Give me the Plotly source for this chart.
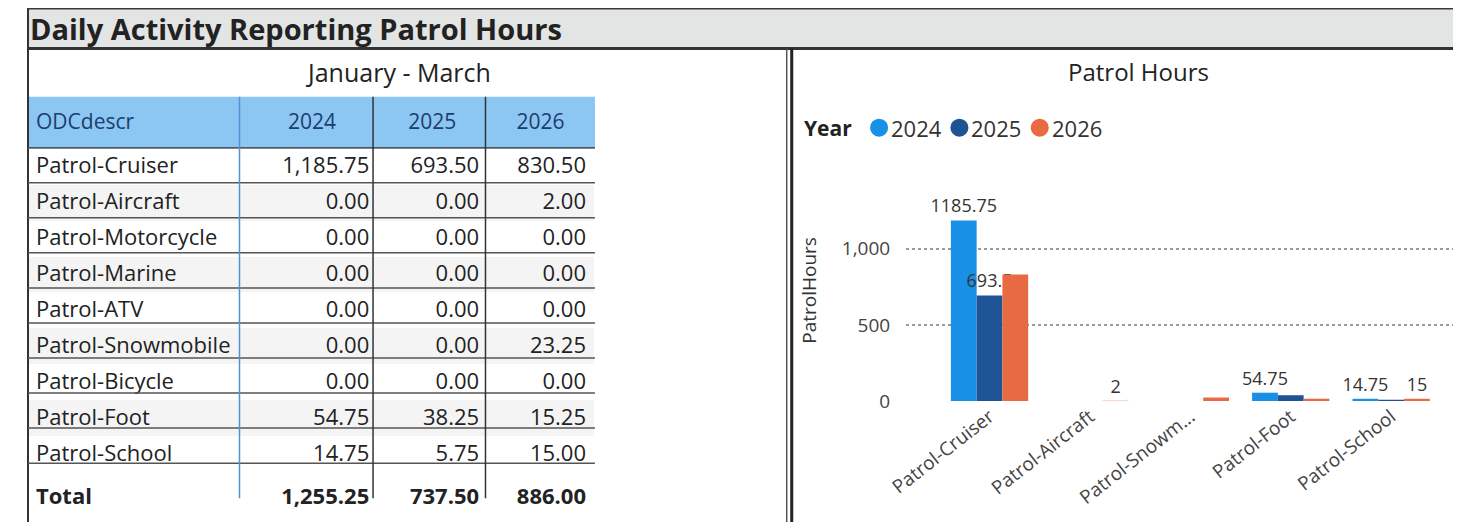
import plotly.graph_objects as go

# ---------------- data ----------------
categories = ["Patrol-Cruiser", "Patrol-Aircraft", "Patrol-Motorcycle", "Patrol-Marine",
              "Patrol-ATV", "Patrol-Snowmobile", "Patrol-Bicycle", "Patrol-Foot", "Patrol-School"]
years = ["2024", "2025", "2026"]
hours_2024 = [1185.75, 0.00, 0.00, 0.00, 0.00, 0.00, 0.00, 54.75, 14.75]
hours_2025 = [693.50, 0.00, 0.00, 0.00, 0.00, 0.00, 0.00, 38.25, 5.75]
hours_2026 = [830.50, 2.00, 0.00, 0.00, 0.00, 23.25, 0.00, 15.25, 15.00]

# which data labels are visible in the chart (others hidden by overlap in the original)
label_shown = {
    "2024": {"Patrol-Cruiser", "Patrol-Foot", "Patrol-School"},
    "2025": {"Patrol-Cruiser"},
    "2026": {"Patrol-Aircraft", "Patrol-School"},
}

colors = {"2024": "#1790E6", "2025": "#1E5496", "2026": "#E86A42"}

W, H = 1461, 527
OFF = 8                      # page margin around the figure
SX, BX = 0.983, 20.5         # observed photo scaling (horizontal)
SY, BY = 0.974, 0.7          # observed photo scaling (vertical)
FONT = "Open Sans"


def clamp(v):
    return max(0.0007, min(1.0, v))


def px(x):
    return clamp(((x - BX) / SX - OFF) / W)


def py(y):
    return clamp(1 - ((y - BY) / SY - OFF) / H)


series = {"2024": hours_2024, "2025": hours_2025, "2026": hours_2026}
totals = {y: sum(v) for y, v in series.items()}

# ---------------- table ----------------
def fmt(v):
    return f"{v:,.2f}"

col_first = categories + ["<b>Total</b>"]
cols = [col_first]
for y in years:
    cols.append([fmt(v) for v in series[y]] + [f"<b>{fmt(totals[y])}</b>"])

n_rows = len(col_first)
row_fill = [("#ffffff" if i % 2 == 0 else "#f4f4f4") for i in range(n_rows)]
row_fill[-1] = "#ffffff"

HEADER_BLUE = "#8CC6F2"
ROW_H = 35 / SY
HEAD_H = 42 / SY

fig = go.Figure()

fig.add_trace(go.Table(
    domain=dict(x=[px(17), px(594)], y=[py(522), py(106)]),
    columnwidth=[223, 133, 112, 109],
    header=dict(
        values=["ODCdescr"] + years,
        fill_color=HEADER_BLUE,
        line=dict(color=HEADER_BLUE, width=1),
        align=["left", "center", "center", "center"],
        font=dict(family=FONT, size=21, color="#1C3D6E"),
        height=HEAD_H,
    ),
    cells=dict(
        values=cols,
        fill_color=[row_fill] * 4,
        line=dict(color=[row_fill] * 4, width=0),
        align=["left", "right", "right", "right"],
        font=dict(family=FONT, size=22, color="#222222"),
        height=ROW_H,
    ),
))

# ---------------- bar chart ----------------
chart_cats = [c for i, c in enumerate(categories)
              if any(series[y][i] > 0 for y in years)]
idx = [categories.index(c) for c in chart_cats]


def short(name):
    return name if len(name) <= 15 else name[:12] + "..."

for y in years:
    vals = [series[y][i] for i in idx]
    txt = [f"{v:g}" if c in label_shown[y] else "" for c, v in zip(chart_cats, vals)]
    fig.add_trace(go.Bar(
        x=chart_cats, y=vals, name=y, marker=dict(color=colors[y], line=dict(width=0)),
        text=txt, textposition="outside", cliponaxis=False, constraintext="none",
        textfont=dict(family=FONT, size=18, color="#333333"),
        showlegend=False, hoverinfo="x+y",
    ))

fig.update_layout(
    width=W, height=H,
    margin=dict(l=0, r=0, t=0, b=0),
    paper_bgcolor="white", plot_bgcolor="white",
    barmode="group", bargap=0.23, bargroupgap=0,
    font=dict(family=FONT, color="#333333"),
    showlegend=False,
    xaxis=dict(
        domain=[px(904), px(1458)],
        range=[-0.83, 4.71],
        tickmode="array", tickvals=chart_cats, ticktext=[short(c) for c in chart_cats],
        tickangle=-38, tickfont=dict(family=FONT, size=19, color="#444444"),
        showgrid=False, showline=False, zeroline=False, ticks="",
    ),
    yaxis=dict(
        domain=[py(401), py(180)],
        range=[0, 1453],
        tickvals=[0, 500, 1000], ticktext=["0", "500", "1,000"],
        tickfont=dict(family=FONT, size=19, color="#444444"),
        showgrid=True, gridcolor="#9a9a9a", griddash="dot", gridwidth=1.5,
        zeroline=False, showline=False, ticks="", ticklabelstandoff=15,
        title=dict(text="PatrolHours", font=dict(family=FONT, size=19, color="#333333"),
                   standoff=20),
    ),
)

# ---------------- frame / header ----------------
shapes = [
    dict(type="rect", xref="paper", yref="paper", x0=px(8), x1=1, y0=py(49), y1=py(9),
         fillcolor="#E3E4E4", line=dict(color="#3a3a3a", width=2), layer="below"),
    dict(type="line", xref="paper", yref="paper", x0=px(8), x1=1, y0=py(49), y1=py(49),
         line=dict(color="#333333", width=3)),
    dict(type="line", xref="paper", yref="paper", x0=px(9), x1=px(9), y0=0, y1=py(9),
         line=dict(color="#333333", width=2)),
    dict(type="line", xref="paper", yref="paper", x0=px(785), x1=px(785), y0=0, y1=py(49),
         line=dict(color="#555555", width=1.5)),
    dict(type="line", xref="paper", yref="paper", x0=px(790), x1=px(790), y0=0, y1=py(49),
         line=dict(color="#222222", width=3)),
    dict(type="rect", xref="paper", yref="paper", x0=px(17), x1=px(594), y0=py(107), y1=py(97),
         fillcolor=HEADER_BLUE, line=dict(width=0), layer="below"),
]
for k in range(n_rows):
    yy = 148 + 35 * k
    shapes.append(dict(type="line", xref="paper", yref="paper", x0=px(17), x1=px(594),
                       y0=py(yy), y1=py(yy), line=dict(color="#555555", width=1.5)))
for xx, col in [(240, "#4F93D2"), (373, "#333333"), (485, "#333333")]:
    shapes.append(dict(type="line", xref="paper", yref="paper", x0=px(xx), x1=px(xx),
                       y0=py(498), y1=py(97), line=dict(color=col, width=1.5)))

legend_items = [("2024", 877), ("2025", 957), ("2026", 1037)]
for y, cx in legend_items:
    shapes.append(dict(type="circle", xref="paper", yref="paper",
                       x0=px(cx - 9), x1=px(cx + 9), y0=py(137), y1=py(119),
                       fillcolor=colors[y], line=dict(width=0)))

fig.update_layout(shapes=shapes)

annotations = [
    dict(text="<b>Daily Activity Reporting Patrol Hours</b>", x=px(18), y=py(29),
         xref="paper", yref="paper", xanchor="left", yanchor="middle", showarrow=False,
         font=dict(family=FONT, size=29, color="#222222")),
    dict(text="January - March", x=px(398), y=py(72), xref="paper", yref="paper",
         xanchor="center", yanchor="middle", showarrow=False,
         font=dict(family=FONT, size=25, color="#222222")),
    dict(text="Patrol Hours", x=px(1135), y=py(72), xref="paper", yref="paper",
         xanchor="center", yanchor="middle", showarrow=False,
         font=dict(family=FONT, size=24, color="#222222")),
    dict(text="<b>Year</b>", x=px(800), y=py(128), xref="paper", yref="paper",
         xanchor="left", yanchor="middle", showarrow=False,
         font=dict(family=FONT, size=21, color="#222222")),
]
for y, cx in legend_items:
    annotations.append(dict(text=y, x=px(cx + 10), y=py(128), xref="paper", yref="paper",
                            xanchor="left", yanchor="middle", showarrow=False,
                            font=dict(family=FONT, size=22, color="#333333")))
fig.update_layout(annotations=annotations)

fig.write_html("out.html", config={"displayModeBar": False})
